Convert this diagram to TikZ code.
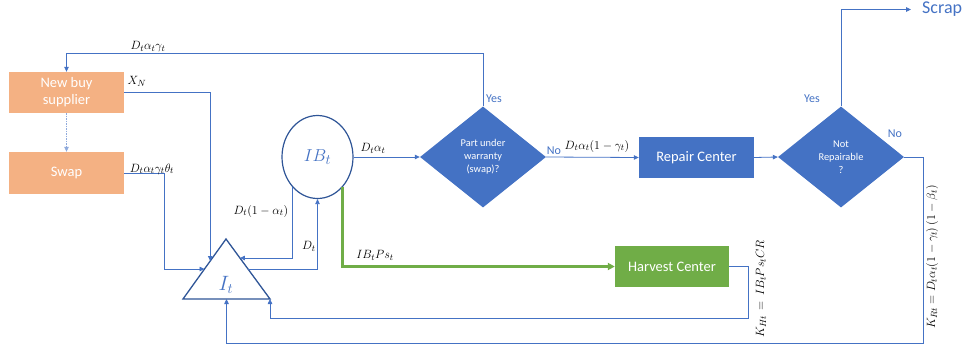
\documentclass[tikz,border=0pt]{standalone}
\usepackage{fontspec}
\setmainfont{Carlito}
\usetikzlibrary{arrows.meta,shapes.geometric,calc}
\definecolor{lineblue}{HTML}{4472C4}
\definecolor{darkblue}{HTML}{2F5597}
\definecolor{boxorange}{HTML}{F4B183}
\definecolor{boxgreen}{HTML}{70AD47}
\definecolor{dotblue}{HTML}{8FAADC}
\begin{document}
\begin{tikzpicture}[x=1pt,y=-1pt,
  flow/.style={draw=lineblue, line width=0.8pt, -{Triangle[length=5pt,width=4.5pt]}},
  greenflow/.style={draw=boxgreen, line width=2.6pt, -{Triangle[length=7pt,width=7pt]}},
  orangebox/.style={rectangle, fill=boxorange, text=white, minimum width=115pt, minimum height=41pt, align=center, font=\fontsize{14.5}{17}\selectfont, inner sep=0pt},
  bluebox/.style={rectangle, fill=lineblue, text=white, minimum width=115pt, minimum height=41pt, align=center, font=\fontsize{14.5}{17}\selectfont, inner sep=0pt},
  greenbox/.style={rectangle, fill=boxgreen, text=white, minimum width=114pt, minimum height=41pt, align=center, font=\fontsize{14.5}{17}\selectfont, inner sep=0pt},
  decision/.style={diamond, fill=lineblue, text=white, minimum width=126pt, minimum height=101pt, inner sep=0pt, align=center, font=\fontsize{10.4}{13}\selectfont},
  lbl/.style={font=\fontsize{12.3}{14}\selectfont, inner sep=0pt, text=black},
  bluelbl/.style={text=lineblue, font=\fontsize{12}{14}\selectfont, inner sep=0pt},
]
\useasboundingbox (0,0) rectangle (965,351);
% nodes
\node[orangebox] (newbuy) at (66.5,92.5) {New buy\\supplier};
\node[orangebox, minimum height=42pt] (swap) at (66.5,173) {Swap};
\node[ellipse, draw=darkblue, line width=1.2pt, fill=white, minimum width=71pt, minimum height=83pt, inner sep=0pt, text=lineblue, font=\fontsize{19}{21}\selectfont] (ib) at (317.5,157) {$IB_t$};
\node[decision] (d1) at (483,157) {Part under\\warranty\\(swap)?};
\node[bluebox] (repair) at (696.5,157.5) {Repair Center};
\node[decision] (d2) at (841,157) {Not\\Repairable\\?};
\node[greenbox] (harvest) at (672,266.5) {Harvest Center};
\node[anchor=west, text=lineblue, font=\fontsize{18}{20}\selectfont, inner xsep=11pt, inner ysep=0pt] (scrap) at (911,9.5) {Scrap};
% triangle
\coordinate (ta) at (226,239);
\coordinate (tl) at (183,299);
\coordinate (tr) at (270,299);
\coordinate (tb) at (226.5,299);
\draw[draw=darkblue, line width=1.3pt, fill=white, line join=miter] (ta) -- (tl) -- (tr) -- cycle;
\node[text=lineblue, font=\fontsize{20}{22}\selectfont, inner sep=0pt] (it) at (226,285) {$I_t$};
\coordinate (xnT) at ($(tl)!0.633!(ta)$);
\coordinate (swT) at ($(tl)!0.5!(ta)$);
\coordinate (dT) at ($(tr)!0.683!(ta)$);
\coordinate (dS) at ($(tr)!0.5!(ta)$);
\coordinate (toprow) at (0,53);
\coordinate (kh) at (748,318);
\coordinate (kr) at (923,343);
% connectors
\draw[flow] (d1.north) -- (d1.north |- toprow) -| (newbuy.north);
\draw[flow, draw=dotblue, dash pattern=on 1.5pt off 1pt] (newbuy.south) -- (swap.north);
\draw[flow] (newbuy.east) -| (xnT);
\draw[flow] (swap.east) -- ++(40,0) |- (swT);
\draw[flow] (ib.230) |- (dT);
\draw[flow] (dS) -| (ib.south);
\draw[flow] (ib.east) -- (d1.west);
\draw[flow] (d1.east) -- (repair.west);
\draw[flow] (repair.east) -- (d2.west);
\draw[flow] (d2.north) |- (scrap.west);
\draw[greenflow] (ib.310) |- (harvest.west);
\draw[flow] (harvest.east) -| (kh) -| (tr);
\draw[flow] (d2.east) -| (kr) -| (tb);
% labels
\node[lbl] (l1) at (148,47) {$D_t\alpha_t\gamma_t$};
\node[lbl] (l2) at (137,81) {$X_N$};
\node[lbl] (l3) at (152,169) {$D_t\alpha_t\gamma_t\theta_t$};
\node[lbl] (l4) at (261,211) {$D_t(1-\alpha_t)$};
\node[lbl] (l5) at (309,246) {$D_t$};
\node[lbl] (l6) at (373,148) {$D_t\alpha_t$};
\node[lbl] (l7) at (597,146) {$D_t\alpha_t(1-\gamma_t)$};
\node[lbl] (l8) at (375,255) {$IB_tPs_t$};
\node[lbl, rotate=90] (l9) at (761,289) {$K_{Ht}\,=\,IB_tPs_tCR$};
\node[lbl, rotate=90] (l10) at (932,257) {$K_{Rt}=D_t\alpha_t(1-\gamma_t)\,(1-\beta_t)$};
\node[bluelbl] (y1) at (494,99) {Yes};
\node[bluelbl] (n1) at (554,151) {No};
\node[bluelbl] (y2) at (812,99) {Yes};
\node[bluelbl] (n2) at (895,134) {No};
\end{tikzpicture}
\end{document}
